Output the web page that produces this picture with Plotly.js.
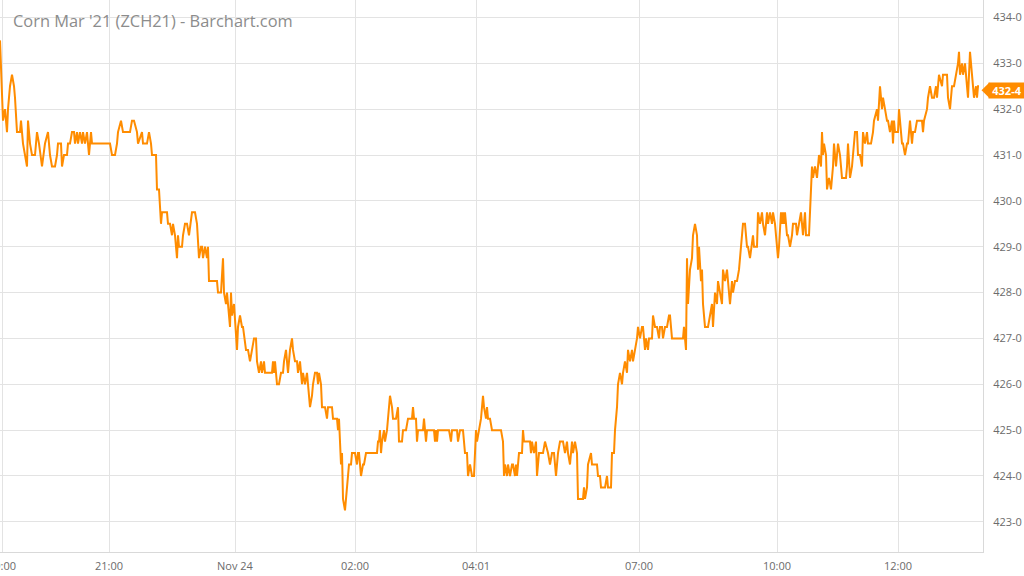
<!DOCTYPE html>
<html>
<head>
<meta charset="utf-8">
<script src="https://cdn.plot.ly/plotly-3.0.1.min.js"></script>
<style>html,body{margin:0;padding:0;background:#fff;}#chart{width:1024px;height:576px;}</style>
</head>
<body>
<div id="chart"></div>
<script>
// Bar index (session minutes with trades) and traded price (cents)
const barIndex = [0,3,5,7,8,10,12,14,15,17,20,21,23,25,27,28,30,32,35,37,39,42,45,48,50,52,55,57,58,61,62,64,67,68,70,72,74,75,77,78,80,82,83,85,87,88,89,91,92,110,112,115,117,118,121,123,130,132,134,137,138,142,143,147,149,151,152,156,157,159,160,161,162,167,168,170,172,173,175,177,178,179,182,183,185,187,189,192,195,197,199,201,202,203,205,207,208,209,217,218,221,222,223,224,226,227,228,230,231,232,234,237,238,240,242,243,246,248,250,252,254,256,257,259,261,262,264,265,272,273,274,275,277,279,281,283,284,286,287,288,290,292,293,295,297,298,300,302,303,305,307,308,310,312,313,315,317,318,319,321,322,325,327,328,332,333,337,338,339,341,342,343,345,346,348,349,351,352,355,357,358,359,361,363,364,366,377,378,379,380,381,382,384,385,387,388,390,392,393,396,398,399,402,403,406,408,412,413,414,416,417,418,423,424,426,427,434,435,436,437,438,449,451,452,457,458,460,463,465,467,468,470,472,474,476,477,479,481,483,484,486,487,488,490,492,501,503,504,505,507,508,510,512,513,515,516,517,519,522,523,524,530,531,532,534,536,537,539,543,545,548,550,552,554,556,558,560,563,565,567,568,570,572,573,575,577,578,583,584,585,587,588,591,592,597,598,600,601,605,607,608,611,612,614,615,617,618,620,622,623,625,627,628,630,632,633,635,637,638,640,642,643,645,646,648,649,652,653,655,657,659,660,662,663,665,667,669,670,672,683,684,686,687,688,690,692,693,695,697,698,699,701,702,703,705,708,710,712,713,715,717,718,720,722,723,725,727,728,730,732,733,735,737,739,741,743,745,747,748,750,753,754,757,758,760,762,763,765,767,768,770,772,773,775,777,778,779,781,782,783,784,785,787,788,790,792,793,796,797,799,801,802,803,804,805,806,809,811,812,813,815,817,818,819,821,822,823,824,826,827,829,831,833,834,836,838,840,842,846,847,848,850,852,853,855,857,858,860,862,863,865,867,868,871,873,874,877,878,880,882,883,885,887,888,890,892,893,894,895,898,899,901,902,903,905,907,908,910,912,913,915,917,922,923,924,927,928,930,932,934,936,937,939,942,943,947,948,950,952,954,956,958,959,960,962,963,965,967,968,970,972,973,974,976,977,978,979];
const price = [433.5,431.75,432,431.5,432,432.5,432.75,432.5,432.25,431.5,431.5,431.75,431.25,431,430.75,431.75,431.25,431,431,431.5,431.25,430.75,431.25,431.5,431,430.75,430.75,431,431.25,431.25,430.75,431,431,431.25,431.25,431.5,431.5,431.25,431.5,431.25,431.5,431.25,431.5,431.25,431.5,431.25,431,431.5,431.25,431.25,431,431,431.25,431.5,431.75,431.5,431.5,431.75,431.75,431.5,431.25,431.5,431.25,431.25,431.5,431.25,431,431,430.25,430.25,429.75,429.5,429.75,429.75,429.5,429.5,429.25,429.5,429.25,428.75,429.25,429,429,429.25,429.5,429.5,429.25,429.75,429.75,429.5,428.75,429,429,428.75,429,428.75,429,428.25,428.25,428,428,428.5,428.75,428,427.75,428,427.75,427.25,428,427.5,427.75,426.75,427.25,427.5,427.25,427.25,426.75,426.75,426.5,426.75,427,427,426.5,426.25,426.5,426.25,426.5,426.25,426.25,426.5,426.25,426.5,426,426,426.25,426.25,426.5,426.75,426.5,426.25,426.75,427,426.75,426.5,426.5,426.25,426.5,426,426.25,426,426.25,426,425.5,425.75,426,426.25,426.25,426,426.25,426,425.5,425.5,425.25,425.5,425.5,425.25,425.25,425,425.25,424.25,424.5,423.5,423.25,423.5,424,424.25,424.25,424.5,424.5,424.25,424.5,424.5,424,424.25,424.25,424.5,424.5,424.75,424.75,425,424.5,424.75,425,424.75,425,425.25,425.75,425.5,425.25,425.25,425.5,424.75,424.75,425,425,425.25,425.25,425.5,425.25,425.25,424.75,425,425,425.25,424.75,425,425,424.75,425,424.75,425,425,424.75,425,425,424.75,425,425,424.5,424.5,424,424.25,424,424,425,424.75,425,425.25,425.75,425.5,425.25,425.5,425.25,425.25,425,425,424.75,424,424.25,424,424.25,424,424.25,424.25,424,424.25,424,424.5,424.5,425,424.75,424.75,424.5,424.75,424.5,424.75,424,424.5,424.5,424.75,424.5,424.25,424.5,424.5,424,424.5,424.75,424.75,424.5,424.75,424.5,424.25,424.75,424.5,424.75,424.5,423.5,423.5,423.75,423.5,423.75,424.25,424.5,424.25,424.25,424,424,423.75,423.75,424,423.75,423.75,424.5,424.5,425,425.5,426,426.25,426,426.25,426.5,426.25,426.75,426.5,426.75,426.5,426.75,427,427.25,427,427.25,427.25,426.75,427,426.75,427,427,427.5,427.25,427.25,427,427.25,427.25,427,427.25,427.25,427.5,427.5,427,427,427.25,426.75,428.75,427.75,428.5,428.75,429.25,429.5,429.25,428.5,429,428.25,428.5,427.75,427.25,427.25,427.5,427.75,427.25,428,427.75,428.25,428,427.75,428.5,428.25,428.5,428.25,427.75,428.25,428,428.25,428.25,428.5,429,429.5,429.5,429,429,428.75,429.25,429,429,429.75,429.5,429.75,429.5,429.25,429.75,429.5,429.75,429.5,429.75,429.5,429,428.75,429,429.75,429.5,429.75,429.5,429.75,429.25,429.25,429,429.25,429.5,429.5,429.25,429.5,429.75,429.5,429.25,429.5,429.75,429.25,429.25,430.25,430.75,430.5,430.75,430.5,430.75,431,430.75,431.5,431,431.25,431,430.25,430.5,430.25,430.75,431.25,430.75,431.25,431,430.5,430.5,430.75,431.25,430.5,430.75,431,431.5,431.5,431,431,430.75,431.5,431.25,431.5,431.25,431.25,431.5,431.75,432,431.75,432.5,432,432.25,432,431.75,431.75,431.5,431.75,431.25,431.75,431.5,431.5,432,431.5,431.25,431.25,431,431.25,431.25,431.75,431.25,431.5,431.5,431.75,431.75,431.5,431.75,432,432.25,432.5,432.25,432.25,432.5,432.25,432.75,432.5,432.75,432.75,432.25,432,432.5,432.5,432.75,433,433.25,432.75,433,432.75,433,432.5,432.25,433.25,432.75,432.5,432.25,432.5,432.25,432.5,432.5];

const timeTickBars = [2,109,235,355,476,639,777,898];
const timeTickLabels = ['19:00','21:00','Nov 24','02:00','04:01','07:00','10:00','12:00'];
const priceTicks = [423,424,425,426,427,428,429,430,431,432,433,434];
const priceTickLabels = priceTicks.map(v => v + '-0');

function fmtPrice(p){
  const whole = Math.floor(p);
  const eighths = Math.round((p - whole) * 8);
  return whole + '-' + eighths;
}
const lastPrice = price[price.length - 1];

const ORANGE = '#ff8c00';
const FONT = 'Open Sans, Noto Sans, sans-serif';
const labelShiftPx = -4;
const pxPerCent = 552 / (434.381 - 422.342);
const labelCenter = lastPrice + labelShiftPx / pxPerCent;

const trace = {
  x: barIndex, y: price, type: 'scatter', mode: 'lines',
  line: {color: ORANGE, width: 2}, hoverinfo: 'skip'
};

const layout = {
  width: 1024, height: 576,
  margin: {l: 0, r: 41, t: 0, b: 24, pad: 0},
  paper_bgcolor: '#ffffff', plot_bgcolor: '#ffffff',
  showlegend: false,
  xaxis: {
    range: [0, 983], tickmode: 'array', tickvals: timeTickBars, ticktext: timeTickLabels,
    showgrid: true, gridcolor: '#e3e3e3', gridwidth: 1, zeroline: false,
    showline: true, linecolor: '#d9d9d9', linewidth: 1, ticks: '',
    ticklabelstandoff: 4, ticklabeloverflow: 'allow',
    tickfont: {family: FONT, size: 11, color: '#6b6b6b'}, fixedrange: true
  },
  yaxis: {
    side: 'right', range: [422.342, 434.381], tickmode: 'array',
    tickvals: priceTicks, ticktext: priceTickLabels,
    showgrid: true, gridcolor: '#e3e3e3', gridwidth: 1, zeroline: false,
    showline: true, linecolor: '#d9d9d9', linewidth: 1, ticks: '',
    ticklabelstandoff: 7,
    tickfont: {family: FONT, size: 11, color: '#6b6b6b'}, fixedrange: true
  },
  annotations: [
    {text: "Corn Mar '21 (ZCH21) - Barchart.com", xref: 'paper', yref: 'paper',
     x: 11/983, y: 1 - 20/552, xanchor: 'left', yanchor: 'middle', showarrow: false,
     font: {family: FONT, size: 16.4, color: '#8c8c8c'}},
    {text: '<b>' + fmtPrice(lastPrice) + '</b>', xref: 'paper', yref: 'y',
     x: 1, xshift: 5, y: labelCenter, xanchor: 'left', yanchor: 'middle', showarrow: false,
     bgcolor: ORANGE, width: 34, height: 13, borderpad: 1, align: 'center',
     font: {family: FONT, size: 11, color: '#ffffff'}}
  ],
  shapes: [
    {type: 'path', xref: 'paper', yref: 'y', fillcolor: ORANGE, line: {width: 0},
     path: 'M 0.9985 ' + labelCenter + ' L 1.0065 ' + (labelCenter + 0.17) + ' L 1.0065 ' + (labelCenter - 0.17) + ' Z'}
  ]
};

Plotly.newPlot('chart', [trace], layout, {displayModeBar: false, staticPlot: true});
</script>
</body>
</html>
